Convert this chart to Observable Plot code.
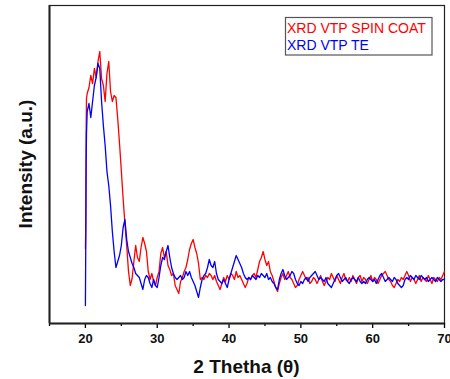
<!DOCTYPE html>
<html>
<head>
<meta charset="utf-8">
<script src="https://cdn.jsdelivr.net/npm/d3@7"></script>
<script src="https://cdn.jsdelivr.net/npm/@observablehq/plot@0.6"></script>
<style>
  html, body { margin: 0; padding: 0; background: #fff; }
  svg { font-family: "Liberation Sans", Arial, sans-serif; }
</style>
</head>
<body>
<div id="chart"></div>
<script>
const seriesNames = ["XRD VTP SPIN COAT", "XRD VTP TE"];
const seriesColors = ["#ff0000", "#0000ff"];
const xTicks = [20, 30, 40, 50, 60, 70];
const xMinorTicks = [15, 25, 35, 45, 55, 65];

const theta = [20, 20.05, 20.1, 20.15,
  20.25, 20.5, 20.75, 21, 21.25, 21.5, 21.75, 22, 22.25, 22.5, 22.75, 23, 23.25, 23.5, 23.75, 24,
  24.25, 24.5, 24.75, 25, 25.25, 25.5, 25.75, 26, 26.25, 26.5, 26.75, 27, 27.25, 27.5, 27.75, 28,
  28.25, 28.5, 28.75, 29, 29.25, 29.5, 29.75, 30, 30.25, 30.5, 30.75, 31, 31.25, 31.5, 31.75, 32,
  32.25, 32.5, 32.75, 33, 33.25, 33.5, 33.75, 34, 34.25, 34.5, 34.75, 35, 35.25, 35.5, 35.75, 36,
  36.25, 36.5, 36.75, 37, 37.25, 37.5, 37.75, 38, 38.25, 38.5, 38.75, 39, 39.25, 39.5, 39.75, 40,
  40.25, 40.5, 40.75, 41, 41.25, 41.5, 41.75, 42, 42.25, 42.5, 42.75, 43, 43.25, 43.5, 43.75, 44,
  44.25, 44.5, 44.75, 45, 45.25, 45.5, 45.75, 46, 46.25, 46.5, 46.75, 47, 47.25, 47.5, 47.75, 48,
  48.25, 48.5, 48.75, 49, 49.25, 49.5, 49.75, 50, 50.25, 50.5, 50.75, 51, 51.25, 51.5, 51.75, 52,
  52.25, 52.5, 52.75, 53, 53.25, 53.5, 53.75, 54, 54.25, 54.5, 54.75, 55, 55.25, 55.5, 55.75, 56,
  56.25, 56.5, 56.75, 57, 57.25, 57.5, 57.75, 58, 58.25, 58.5, 58.75, 59, 59.25, 59.5, 59.75, 60,
  60.25, 60.5, 60.75, 61, 61.25, 61.5, 61.75, 62, 62.25, 62.5, 62.75, 63, 63.25, 63.5, 63.75, 64,
  64.25, 64.5, 64.75, 65, 65.25, 65.5, 65.75, 66, 66.25, 66.5, 66.75, 67, 67.25, 67.5, 67.75, 68,
  68.25, 68.5, 68.75, 69, 69.25, 69.5, 69.75, 70];

const spinCoat = [75, 95, 190, 225,
  230, 236, 248, 240, 255, 246, 262, 272, 245, 238, 222, 250, 262, 232, 222, 228,
  226, 205, 180, 153, 125, 100, 78, 52, 38, 45, 62, 78, 66, 62, 76, 86,
  80, 72, 52, 44, 50, 42, 38, 46, 52, 70, 76, 66, 72, 58, 54, 48,
  50, 38, 34, 30, 42, 46, 52, 56, 64, 74, 80, 84, 76, 70, 60, 44,
  46, 44, 48, 46, 50, 48, 44, 48, 42, 38, 34, 40, 46, 42, 48, 44,
  50, 48, 44, 52, 46, 48, 44, 40, 36, 40, 46, 44, 48, 50, 46, 54,
  62, 66, 72, 64, 58, 62, 52, 48, 42, 36, 32, 40, 46, 50, 44, 48,
  52, 46, 44, 40, 36, 38, 44, 48, 52, 48, 44, 46, 40, 42, 46, 44,
  40, 44, 48, 42, 38, 42, 46, 44, 50, 46, 42, 48, 44, 40, 46, 50,
  44, 42, 46, 42, 48, 44, 40, 46, 48, 42, 46, 44, 40, 44, 48, 42,
  46, 44, 40, 44, 48, 50, 52, 48, 44, 42, 38, 36, 40, 44, 42, 46,
  44, 48, 52, 48, 42, 46, 44, 40, 44, 48, 42, 46, 44, 42, 48, 44,
  40, 46, 44, 42, 46, 44, 48, 52];

const te = [18, 80, 160, 190,
  212, 220, 206, 222, 238, 246, 260, 255, 222, 198, 178, 152, 138, 118, 92, 72,
  56, 62, 68, 78, 96, 104, 84, 72, 66, 60, 56, 50, 48, 46, 40, 34,
  44, 48, 46, 40, 36, 44, 38, 36, 46, 58, 66, 64, 72, 78, 66, 56,
  50, 46, 44, 46, 48, 44, 46, 52, 48, 52, 46, 42, 38, 32, 26, 36,
  44, 48, 50, 56, 64, 58, 56, 62, 50, 44, 42, 40, 44, 40, 36, 44,
  50, 56, 62, 68, 64, 60, 56, 50, 46, 44, 46, 44, 48, 46, 44, 48,
  46, 50, 48, 46, 50, 44, 46, 42, 40, 36, 34, 44, 50, 54, 48, 44,
  46, 48, 52, 50, 44, 40, 38, 42, 40, 44, 46, 42, 46, 48, 50, 52,
  48, 44, 46, 44, 42, 46, 40, 38, 36, 40, 44, 48, 50, 46, 42, 44,
  46, 42, 40, 44, 46, 44, 42, 46, 42, 40, 42, 40, 44, 46, 44, 42,
  44, 40, 44, 48, 50, 46, 42, 44, 46, 44, 42, 46, 44, 40, 38, 36,
  38, 44, 46, 44, 48, 46, 44, 48, 46, 44, 48, 46, 44, 46, 42, 44,
  46, 44, 42, 46, 44, 42, 44, 44];

const rows = [];
theta.forEach((t, i) => {
  rows.push({theta: t, intensity: spinCoat[i], series: seriesNames[0]});
});
theta.forEach((t, i) => {
  rows.push({theta: t, intensity: te[i], series: seriesNames[1]});
});

const W = 450, H = 379;
const mL = 49, mR = 6, mT = 5, mB = 56;

const plot = Plot.plot({
  width: W,
  height: H,
  marginLeft: mL,
  marginRight: mR,
  marginTop: mT,
  marginBottom: mB,
  style: {fontFamily: "'Liberation Sans', Arial, sans-serif", background: "white", overflow: "hidden"},
  x: {domain: [15, 70]},
  y: {domain: [0, 318]},
  color: {domain: seriesNames, range: seriesColors},
  marks: [
    Plot.frame({stroke: "#222", strokeWidth: 1.2}),
    Plot.line(rows, {x: "theta", y: "intensity", z: "series", stroke: "series", strokeWidth: 1.3}),
    Plot.axisX({ticks: xMinorTicks, tickSize: 3, tickFormat: () => "", strokeWidth: 1.3, label: null}),
    Plot.axisX({ticks: xTicks, tickSize: 5, tickPadding: 5, strokeWidth: 1.3, fontSize: 13, fontWeight: "bold", fill: "#111", label: null}),
    Plot.axisY({ticks: [], label: null}),
    Plot.ruleY([0], {stroke: "#222", strokeWidth: 2}),
    Plot.ruleX([15], {stroke: "#222", strokeWidth: 2})
  ]
});

const svg = d3.select(plot);
// axis titles
svg.append("text")
  .attr("x", (mL + W - mR) / 2).attr("y", 373)
  .attr("text-anchor", "middle")
  .attr("font-size", 19).attr("font-weight", "bold").attr("fill", "#111")
  .text("2 Thetha (θ)");
svg.append("text")
  .attr("transform", `translate(32, ${(mT + H - mB) / 2}) rotate(-90)`)
  .attr("text-anchor", "middle")
  .attr("font-size", 19).attr("font-weight", "bold").attr("fill", "#111")
  .text("Intensity (a.u.)");

// legend
const lg = svg.append("g").attr("text-anchor", "start");
lg.append("rect").attr("x", 285.5).attr("y", 17.5).attr("width", 146.5).attr("height", 37.5)
  .attr("fill", "white").attr("stroke", "#555").attr("stroke-width", 1.2);
seriesNames.forEach((name, i) => {
  lg.append("text").attr("x", 287).attr("y", 33 + i * 17)
    .attr("text-anchor", "start")
    .attr("font-size", 14).attr("fill", seriesColors[i]).text(name);
});

document.getElementById("chart").appendChild(plot);
</script>
</body>
</html>
